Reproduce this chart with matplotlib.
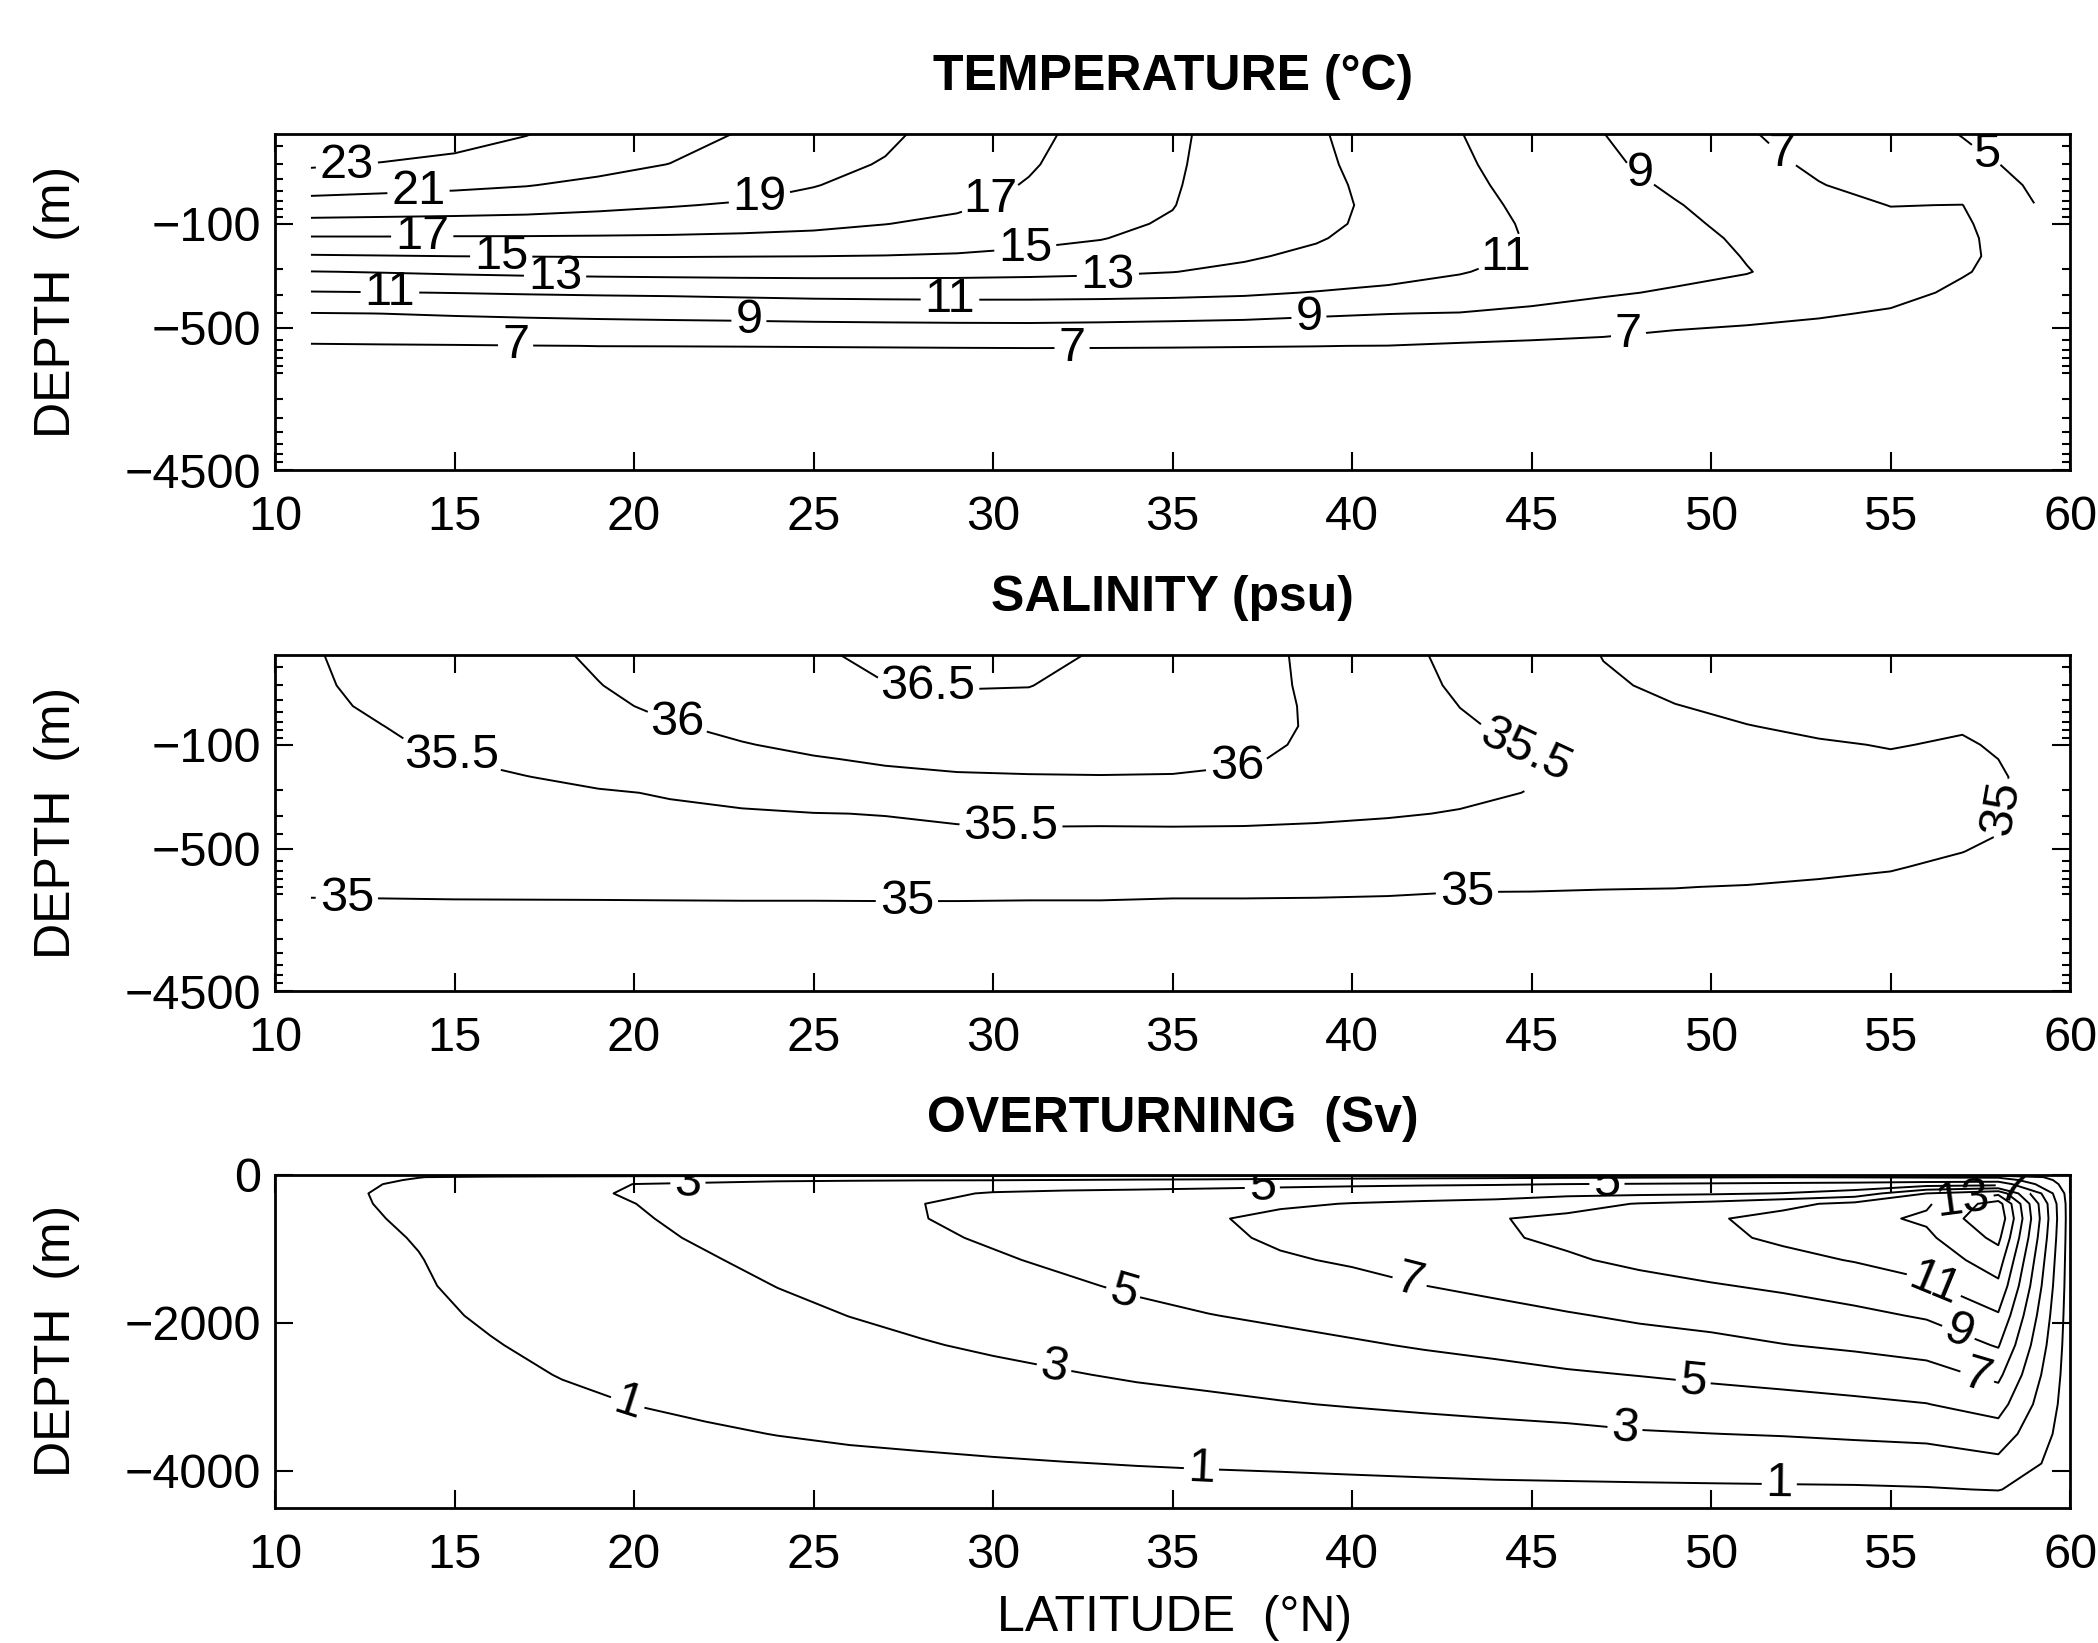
import numpy as np
import matplotlib.pyplot as plt
from matplotlib.ticker import FixedLocator, FixedFormatter, NullFormatter

plt.rcParams['font.family'] = ['Liberation Sans', 'DejaVu Sans']

# ---------------- data ----------------
# temperature / salinity columns (deg N)
lat_ts = [11, 13, 15, 17, 19, 21, 23, 25, 27, 29, 31, 33, 35,
          37, 39, 41, 43, 45, 47, 49, 51, 53, 55, 57, 59]
depth_t = [25, 40, 55, 75, 100, 125, 165, 210, 290, 400, 520, 660, 900, 4500]
depth_s = [25, 40, 55, 75, 100, 125, 165, 210, 290, 400, 520, 660, 900, 1200, 4500]

# temperature profile for each latitude column (deg C), top to bottom
temp_cols = [
    [24.5, 23.2, 21.8, 20.2, 18.35, 16.8, 14.83, 12.95, 10.87, 8.94, 7.96, 6.83, 6.3, 5.6],
    [24.1, 22.88, 21.58, 20.03, 18.31, 16.81, 14.92, 13.08, 10.95, 9.01, 8.02, 6.88, 6.3, 5.6],
    [23.6, 22.56, 21.35, 19.91, 18.25, 16.78, 15.01, 13.24, 11.03, 9.14, 8.07, 6.92, 6.3, 5.6],
    [23.05, 22.04, 21.07, 19.73, 18.18, 16.78, 15.04, 13.37, 11.13, 9.25, 8.13, 6.97, 6.3, 5.6],
    [22.3, 21.47, 20.61, 19.42, 18.03, 16.75, 15.08, 13.46, 11.21, 9.35, 8.18, 7.01, 6.3, 5.6],
    [21.6, 20.97, 20.17, 19.11, 17.88, 16.71, 15.08, 13.52, 11.27, 9.43, 8.22, 7.015, 6.3, 5.6],
    [20.9, 20.28, 19.66, 18.82, 17.68, 16.61, 15.04, 13.56, 11.38, 9.50, 8.25, 7.024, 6.3, 5.6],
    [20.1, 19.58, 19.07, 18.33, 17.41, 16.48, 15.01, 13.57, 11.49, 9.59, 8.30, 7.037, 6.3, 5.6],
    [19.3, 18.86, 18.40, 17.79, 17.03, 16.23, 14.94, 13.55, 11.54, 9.65, 8.33, 7.05, 6.3, 5.6],
    [18.3, 17.99, 17.67, 17.25, 16.63, 15.93, 14.80, 13.51, 11.57, 9.69, 8.36, 7.064, 6.3, 5.6],
    [17.4, 17.15, 16.88, 16.47, 15.97, 15.46, 14.56, 13.41, 11.56, 9.70, 8.38, 7.074, 6.3, 5.6],
    [16.4, 16.2, 16.0, 15.73, 15.4, 15.07, 14.24, 13.26, 11.52, 9.63, 8.34, 7.07, 6.3, 5.6],
    [15.3, 15.23, 15.16, 15.06, 14.81, 14.40, 13.76, 13.03, 11.42, 9.53, 8.28, 7.057, 6.3, 5.6],
    [14.2, 14.09, 13.98, 13.84, 13.65, 13.47, 13.18, 12.65, 11.25, 9.41, 8.23, 7.037, 6.3, 5.6],
    [13.2, 13.3, 13.4, 13.45, 13.35, 13.12, 12.68, 12.05, 10.92, 9.19, 8.15, 7.015, 6.3, 5.6],
    [12.1, 12.35, 12.5, 12.6, 12.55, 12.4, 12.05, 11.6, 10.6, 9.03, 8.08, 6.98, 6.3, 5.6],
    [11.05, 11.25, 11.4, 11.55, 11.6, 11.55, 11.4, 11.1, 10.2, 8.93, 7.92, 6.75, 6.3, 5.6],
    [10.0, 10.25, 10.45, 10.65, 10.82, 10.9, 10.8, 10.45, 9.6, 8.62, 7.67, 6.57, 6.3, 5.6],
    [9.02, 9.3, 9.55, 9.75, 9.9, 9.95, 9.9, 9.65, 9.15, 8.35, 7.42, 6.35, 6.2, 5.6],
    [8.1, 8.44, 8.78, 9.1, 9.3, 9.42, 9.45, 9.3, 8.86, 7.96, 6.98, 6.75, 6.2, 5.6],
    [7.12, 7.5, 7.85, 8.25, 8.6, 8.8, 8.95, 9.04, 8.6, 7.5, 6.75, 6.6, 6.2, 5.6],
    [6.4, 6.75, 7.07, 7.5, 7.95, 8.3, 8.55, 8.55, 8.2, 7.2, 6.45, 6.35, 6.25, 5.6],
    [5.7, 6.0, 6.4, 6.97, 7.4, 7.7, 7.9, 7.85, 7.5, 6.8, 6.4, 6.3, 6.2, 5.6],
    [4.95, 5.5, 6.3, 7.02, 7.25, 7.3, 7.25, 7.1, 6.7, 6.4, 6.3, 6.25, 6.2, 5.6],
    [4.3, 4.55, 4.75, 5.03, 5.6, 6.0, 6.3, 6.35, 6.3, 6.2, 6.15, 6.1, 6.05, 5.6],
]

# salinity profile for each latitude column (psu), top to bottom
salt_cols = [
    [35.47, 35.45, 35.43, 35.41, 35.39, 35.37, 35.35, 35.33, 35.3, 35.26, 35.21, 35.16, 35.06, 34.95, 34.9],
    [35.63, 35.59, 35.55, 35.497, 35.46, 35.43, 35.4, 35.37, 35.33, 35.28, 35.23, 35.18, 35.07, 34.95, 34.9],
    [35.78, 35.73, 35.68, 35.62, 35.55, 35.49, 35.44, 35.4, 35.35, 35.3, 35.25, 35.19, 35.07, 34.96, 34.9],
    [35.92, 35.87, 35.82, 35.76, 35.68, 35.61, 35.49, 35.44, 35.38, 35.32, 35.26, 35.2, 35.075, 34.96, 34.9],
    [36.04, 35.99, 35.94, 35.88, 35.8, 35.72, 35.6, 35.46, 35.39, 35.33, 35.27, 35.21, 35.08, 34.96, 34.9],
    [36.2, 36.13, 36.06, 35.97, 35.88, 35.8, 35.68, 35.53, 35.42, 35.35, 35.29, 35.22, 35.09, 34.96, 34.9],
    [36.33, 36.25, 36.17, 36.08, 35.98, 35.9, 35.78, 35.65, 35.44, 35.37, 35.3, 35.23, 35.1, 34.96, 34.9],
    [36.47, 36.4, 36.32, 36.21, 36.08, 35.97, 35.84, 35.72, 35.49, 35.39, 35.31, 35.24, 35.1, 34.96, 34.9],
    [36.55, 36.49, 36.42, 36.32, 36.2, 36.05, 35.9, 35.77, 35.51, 35.41, 35.32, 35.25, 35.11, 34.96, 34.9],
    [36.6, 36.51, 36.45, 36.36, 36.24, 36.11, 35.95, 35.82, 35.57, 35.42, 35.34, 35.26, 35.11, 34.96, 34.9],
    [36.56, 36.505, 36.44, 36.35, 36.24, 36.13, 35.97, 35.84, 35.6, 35.43, 35.35, 35.27, 35.09, 34.96, 34.9],
    [36.48, 36.43, 36.38, 36.31, 36.22, 36.13, 35.98, 35.85, 35.59, 35.43, 35.35, 35.27, 35.09, 34.96, 34.9],
    [36.3, 36.27, 36.24, 36.2, 36.14, 36.08, 35.98, 35.85, 35.6, 35.43, 35.34, 35.26, 35.07, 34.95, 34.9],
    [36.13, 36.12, 36.11, 36.09, 36.06, 36.03, 35.94, 35.82, 35.6, 35.42, 35.33, 35.25, 35.07, 34.95, 34.9],
    [35.92, 35.94, 35.96, 35.97, 35.96, 35.93, 35.85, 35.75, 35.57, 35.4, 35.31, 35.24, 35.06, 34.95, 34.9],
    [35.63, 35.66, 35.68, 35.7, 35.7, 35.69, 35.66, 35.62, 35.53, 35.37, 35.29, 35.22, 35.05, 34.94, 34.9],
    [35.4, 35.45, 35.497, 35.54, 35.57, 35.58, 35.58, 35.56, 35.48, 35.34, 35.27, 35.2, 35.02, 34.94, 34.9],
    [35.2, 35.28, 35.35, 35.42, 35.48, 35.51, 35.515, 35.49, 35.42, 35.32, 35.25, 35.18, 35.02, 34.93, 34.9],
    [34.99, 35.05, 35.12, 35.2, 35.27, 35.31, 35.34, 35.34, 35.3, 35.24, 35.19, 35.13, 35.01, 34.93, 34.9],
    [34.85, 34.93, 35.01, 35.1, 35.18, 35.22, 35.26, 35.27, 35.25, 35.2, 35.15, 35.1, 35.005, 34.93, 34.9],
    [34.75, 34.83, 34.92, 35.01, 35.1, 35.15, 35.2, 35.22, 35.21, 35.17, 35.13, 35.08, 34.99, 34.93, 34.9],
    [34.7, 34.76, 34.83, 34.93, 35.04, 35.1, 35.15, 35.17, 35.16, 35.13, 35.09, 35.04, 34.97, 34.93, 34.9],
    [34.65, 34.7, 34.76, 34.85, 34.98, 35.05, 35.1, 35.12, 35.11, 35.08, 35.05, 35.01, 34.96, 34.93, 34.9],
    [34.6, 34.72, 34.85, 34.97, 35.04, 35.07, 35.09, 35.09, 35.08, 35.05, 35.002, 34.97, 34.95, 34.93, 34.9],
    [34.55, 34.62, 34.7, 34.8, 34.88, 34.93, 34.95, 34.93, 34.93, 34.95, 34.95, 34.94, 34.93, 34.92, 34.9],
]

# overturning streamfunction (Sv)
lat_psi = [10, 12, 14, 16, 18, 20, 22, 24, 26, 28, 30, 32, 34,
           36, 38, 40, 42, 44, 46, 48, 50, 52, 54, 56, 58, 60]
depth_psi = [0, 30, 70, 125, 250, 390, 590, 850, 1150, 1500, 1900,
             2300, 2700, 3100, 3500, 3900, 4250, 4500]
psi_cols = [
    [0, 0.2, 0.35, 0.45, 0.5, 0.5, 0.45, 0.4, 0.35, 0.3, 0.25, 0.2, 0.15, 0.12, 0.1, 0.06, 0.03, 0],
    [0, 0.4, 0.65, 0.85, 0.85, 0.8, 0.7, 0.6, 0.5, 0.42, 0.35, 0.28, 0.22, 0.17, 0.12, 0.08, 0.04, 0],
    [0, 0.97, 1.1, 1.15, 1.35, 1.35, 1.25, 1.08, 0.95, 0.86, 0.74, 0.63, 0.52, 0.41, 0.29, 0.17, 0.08, 0],
    [0, 1.3, 1.6, 1.8, 1.95, 1.95, 1.9, 1.75, 1.6, 1.4, 1.15, 0.93, 0.75, 0.58, 0.42, 0.26, 0.12, 0],
    [0, 1.5, 1.95, 2.25, 2.5, 2.55, 2.5, 2.35, 2.15, 1.9, 1.6, 1.3, 1.04, 0.8, 0.58, 0.36, 0.17, 0],
    [0, 1.7, 2.4, 3.02, 3.2, 2.98, 2.8, 2.6, 2.4, 2.15, 1.85, 1.55, 1.28, 1.01, 0.72, 0.45, 0.2, 0],
    [0, 1.85, 2.65, 3.2, 3.55, 3.65, 3.5, 3.2, 2.85, 2.5, 2.1, 1.75, 1.45, 1.17, 0.88, 0.56, 0.27, 0],
    [0, 2.0, 2.85, 3.35, 3.85, 4.05, 4.1, 3.85, 3.45, 3.03, 2.6, 2.15, 1.75, 1.4, 1.02, 0.68, 0.33, 0],
    [0, 2.1, 2.9, 3.5, 4.1, 4.45, 4.55, 4.35, 3.95, 3.5, 3.02, 2.55, 2.1, 1.65, 1.12, 0.8, 0.4, 0],
    [0, 2.2, 2.95, 3.6, 4.4, 4.98, 4.95, 4.7, 4.3, 3.85, 3.35, 2.9, 2.4, 1.9, 1.25, 0.82, 0.43, 0],
    [0, 2.3, 2.97, 3.7, 5.2, 5.35, 5.45, 5.2, 4.8, 4.3, 3.7, 3.2, 2.65, 2.1, 1.45, 0.87, 0.45, 0],
    [0, 2.4, 3.03, 3.9, 5.5, 5.75, 5.9, 5.75, 5.3, 4.75, 4.1, 3.5, 2.9, 2.3, 1.62, 0.96, 0.46, 0],
    [0, 2.5, 3.1, 4.0, 5.7, 6.2, 6.4, 6.25, 5.85, 5.25, 4.55, 3.85, 3.17, 2.5, 1.8, 1.05, 0.5, 0],
    [0, 2.55, 3.15, 4.15, 5.95, 6.6, 6.85, 6.7, 6.3, 5.7, 4.95, 4.15, 3.4, 2.68, 1.95, 1.13, 0.54, 0],
    [0, 2.6, 3.25, 4.4, 6.1, 6.8, 7.35, 7.2, 6.85, 6.2, 5.3, 4.45, 3.65, 2.9, 2.05, 1.2, 0.57, 0],
    [0, 2.65, 3.35, 4.6, 6.3, 7.05, 7.85, 7.7, 7.15, 6.6, 5.65, 4.8, 3.9, 3.1, 2.15, 1.3, 0.6, 0],
    [0, 2.7, 3.45, 4.75, 6.45, 7.2, 8.4, 8.3, 7.85, 6.98, 5.95, 5.15, 4.2, 3.3, 2.3, 1.4, 0.65, 0],
    [0, 2.75, 3.5, 4.85, 6.6, 7.3, 8.9, 8.8, 8.3, 7.45, 6.4, 5.45, 4.5, 3.5, 2.45, 1.5, 0.7, 0],
    [0, 2.8, 3.6, 5.02, 6.5, 8.3, 9.4, 9.3, 8.8, 8.0, 6.85, 5.85, 4.8, 3.7, 2.6, 1.58, 0.72, 0],
    [0, 2.85, 3.7, 5.15, 6.6, 9.1, 10.1, 10.0, 9.35, 8.45, 7.3, 6.2, 5.05, 3.95, 2.85, 1.65, 0.75, 0],
    [0, 2.9, 3.8, 5.3, 6.75, 9.6, 10.8, 10.6, 9.95, 8.85, 7.65, 6.5, 5.35, 4.15, 2.98, 1.7, 0.78, 0],
    [0, 2.95, 3.9, 5.45, 7.05, 10.5, 11.6, 11.3, 10.5, 9.3, 8.05, 6.95, 5.6, 4.4, 3.1, 1.78, 0.8, 0],
    [0, 2.9, 4.0, 5.6, 7.8, 11.5, 12.45, 12.1, 11.1, 9.9, 8.55, 7.3, 5.9, 4.65, 3.3, 1.85, 0.82, 0],
    [0, 2.8, 4.1, 6.0, 11.0, 12.75, 13.3, 12.6, 11.8, 10.7, 9.2, 7.75, 6.3, 4.95, 3.5, 1.95, 0.9, 0],
    [0, 2.7, 4.2, 6.2, 12.5, 15.9, 16.6, 15.5, 14.0, 12.6, 10.8, 9.15, 7.45, 5.8, 4.1, 2.5, 1.06, 0],
    [0] * 18,
]

temp_levels = [5, 7, 9, 11, 13, 15, 17, 19, 21, 23]
salt_levels = [35, 35.5, 36, 36.5]
psi_levels = [1, 3, 5, 7, 9, 11, 13, 15]

lat_ticks = [10, 15, 20, 25, 30, 35, 40, 45, 50, 55, 60]
log_major = [100, 500, 4500]
log_major_labels = ['\u2212100', '\u2212500', '\u22124500']
log_minor = [30, 40, 50, 60, 70, 80, 90, 200, 300, 400, 600, 700, 800, 900,
             1000, 1500, 2000, 2500, 3000, 3500, 4000]
psi_ticks = [0, 2000, 4000]
psi_tick_labels = ['0', '\u22122000', '\u22124000']

# label spots (lat, depth) picked from the figure
temp_label_pos = [(12.0, 40), (14.0, 65), (23.5, 68), (14.1, 126), (30.0, 74),
                  (16.3, 161), (30.9, 148), (17.8, 220), (33.2, 229),
                  (13.2, 288), (28.8, 312), (44.3, 172), (23.2, 435),
                  (38.8, 435), (48.0, 47), (16.7, 658), (32.2, 685),
                  (47.7, 557), (51.9, 36), (57.6, 36)]
salt_label_pos = [(14.9, 120), (21.2, 70), (28.2, 38), (36.8, 145), (30.5, 346),
                  (44.5, 145), (12.0, 1040), (27.6, 1120), (43.2, 980), (58.2, 270)]
salt_rot = {5: -25, 9: 80}    # labels that stay tilted in the original
psi_label_pos = [(21.5, 110), (19.8, 3108), (33.6, 1626), (31.7, 2602),
                 (41.6, 1446), (49.5, 2800), (47.6, 3433), (35.8, 4011),
                 (51.9, 4156), (56.2, 1482), (56.9, 2114), (57.4, 2747),
                 (37.5, 160), (47.1, 200), (57.0, 300), (58.4, 200)]

# ---------------- figure ----------------
LW = 1.4
FS = 35
CFS = 35

fig = plt.figure(figsize=(20.98, 16.43), dpi=100)
ax1 = fig.add_axes([0.1311, 0.7139, 0.8556, 0.2045])
ax2 = fig.add_axes([0.1311, 0.3968, 0.8556, 0.2045])
ax3 = fig.add_axes([0.1311, 0.0822, 0.8556, 0.2027])


def style(ax):
    ax.set_xlim(10, 60)
    ax.xaxis.set_major_locator(FixedLocator(lat_ticks))
    ax.xaxis.set_major_formatter(FixedFormatter([str(v) for v in lat_ticks]))
    ax.tick_params(which='both', direction='in', top=True, right=True,
                   width=1.5, labelsize=FS)
    ax.tick_params(which='major', length=13)
    ax.tick_params(which='minor', length=6)
    ax.tick_params(axis='x', pad=18)
    ax.tick_params(axis='y', pad=10)
    for s in ax.spines.values():
        s.set_linewidth(2)


def log_depth(ax):
    ax.set_yscale('log')
    ax.set_ylim(4500, 25)
    ax.yaxis.set_major_locator(FixedLocator(log_major))
    ax.yaxis.set_major_formatter(FixedFormatter(log_major_labels))
    ax.yaxis.set_minor_locator(FixedLocator(log_minor))
    ax.yaxis.set_minor_formatter(NullFormatter())


temp = np.array(temp_cols).T
salt = np.array(salt_cols).T
psi = np.array(psi_cols).T

cs1 = ax1.contour(lat_ts, depth_t, temp, levels=temp_levels, colors='k', linewidths=LW)
log_depth(ax1)
style(ax1)
lab1 = ax1.clabel(cs1, fmt='%g', fontsize=CFS, inline=True, inline_spacing=4,
                  manual=temp_label_pos)
for t in lab1:
    t.set_rotation(0)

cs2 = ax2.contour(lat_ts, depth_s, salt, levels=salt_levels, colors='k', linewidths=LW)
log_depth(ax2)
style(ax2)
lab2 = ax2.clabel(cs2, fmt='%g', fontsize=CFS, inline=True, inline_spacing=4,
                  manual=salt_label_pos)
for i, t in enumerate(lab2):
    t.set_rotation(salt_rot.get(i, 0))

cs3 = ax3.contour(lat_psi, depth_psi, psi, levels=psi_levels, colors='k', linewidths=LW)
ax3.set_ylim(4500, 0)
ax3.yaxis.set_major_locator(FixedLocator(psi_ticks))
ax3.yaxis.set_major_formatter(FixedFormatter(psi_tick_labels))
style(ax3)
ax3.clabel(cs3, fmt='%g', fontsize=CFS, inline=True, inline_spacing=4, manual=psi_label_pos)

titles = ['TEMPERATURE (\u00b0C)', 'SALINITY (psu)', 'OVERTURNING  (Sv)']
for ax, t in zip([ax1, ax2, ax3], titles):
    ax.text(0.5, 1.13, t, transform=ax.transAxes, ha='center', va='baseline',
            fontsize=36, fontweight='bold')
    pos = ax.get_position()
    fig.text(0.0272, pos.y0 + pos.height / 2, 'DEPTH  (m)', rotation=90,
             ha='center', va='center', fontsize=36)

fig.text(0.56, 0.0150, 'LATITUDE  (\u00b0N)', ha='center', va='center', fontsize=36)

fig.savefig('out.png', dpi=100)
